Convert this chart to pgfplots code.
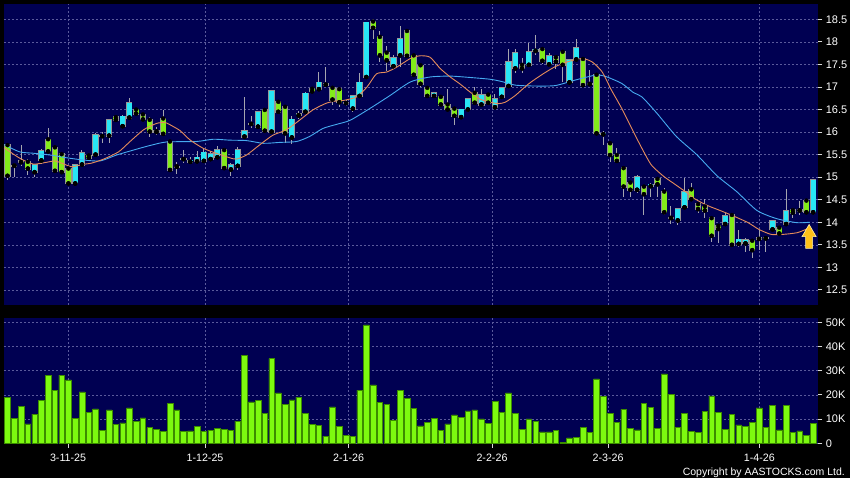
\documentclass[border=0pt]{standalone}
\usepackage{fontspec}
\setmainfont{Liberation Sans}
\usepackage{pgfplots}
\usepackage{pgfplotstable}
\pgfplotsset{compat=1.18}
\definecolor{bgnavy}{RGB}{0,0,82}
\definecolor{gridc}{RGB}{90,90,155}
\definecolor{upc}{RGB}{40,230,245}
\definecolor{dnc}{RGB}{130,235,25}
\definecolor{outc}{RGB}{150,150,150}
\definecolor{wickc}{RGB}{165,165,175}
\definecolor{volc}{RGB}{125,250,15}
\definecolor{voledge}{RGB}{60,140,0}
\definecolor{maor}{RGB}{230,140,90}
\definecolor{mabl}{RGB}{70,170,240}
\definecolor{arrowc}{RGB}{255,192,25}
\definecolor{arrowedge}{RGB}{255,240,170}

\pgfplotstableread{
i O H L C
2 15.33 15.72 15.25 15.36
4 15.11 15.30 15.01 15.28
5 15.37 15.62 15.30 15.59
10 14.86 15.29 14.85 15.28
11 15.28 15.60 15.23 15.54
13 15.50 15.97 15.48 15.93
14 15.91 16.01 15.75 15.92
15 15.92 16.30 15.75 16.27
17 16.13 16.37 16.11 16.35
18 16.32 16.75 16.30 16.64
26 15.40 15.60 15.31 15.41
27 15.34 15.45 15.32 15.37
28 15.35 15.58 15.33 15.44
29 15.36 15.62 15.32 15.55
30 15.40 15.58 15.38 15.51
31 15.44 15.68 15.40 15.60
33 15.17 15.32 15.03 15.28
34 15.25 15.66 15.15 15.60
35 15.90 16.78 15.84 16.02
36 16.18 16.35 16.10 16.19
37 16.12 16.45 16.10 16.44
39 16.01 16.93 15.99 16.92
42 15.88 16.35 15.73 16.28
43 16.37 16.46 16.30 16.40
44 16.45 16.88 16.43 16.86
46 16.95 17.33 16.93 17.10
47 17.05 17.45 17.00 17.07
50 16.64 16.70 16.58 16.66
51 16.52 16.82 16.45 16.80
52 16.80 17.30 16.78 17.10
53 17.22 18.45 17.20 18.43
57 17.46 17.70 17.40 17.64
58 17.70 18.35 17.45 18.07
63 16.80 16.88 16.78 16.87
67 16.33 16.52 16.30 16.50
68 16.50 16.76 16.45 16.74
70 16.61 16.95 16.55 16.83
72 16.55 16.85 16.50 16.73
73 16.78 17.00 16.75 16.98
74 17.02 17.85 16.98 17.55
75 17.41 17.85 17.30 17.75
77 17.49 17.97 17.45 17.78
78 17.80 18.15 17.70 17.83
80 17.50 17.75 17.45 17.69
83 17.10 17.62 17.08 17.60
84 17.61 18.07 17.60 17.87
88 15.95 16.02 15.71 15.97
93 14.72 15.05 14.65 15.01
95 14.80 14.88 14.56 14.84
99 14.04 14.29 13.94 14.29
100 14.33 14.97 14.30 14.68
106 13.96 14.21 13.94 14.14
108 13.52 13.83 13.45 13.62
109 13.53 13.65 13.35 13.61
111 13.63 13.83 13.38 13.65
113 13.84 14.05 13.79 14.03
115 13.96 14.73 13.94 14.26
117 14.26 14.48 14.16 14.28
119 14.22 14.96 14.20 14.94
}\up

\pgfplotstableread{
i O H L C
0 15.71 15.74 14.94 15.03
1 15.26 15.31 15.00 15.25
3 15.34 15.40 15.05 15.19
6 15.84 16.08 15.56 15.57
7 15.66 15.68 15.10 15.14
8 15.51 15.53 15.08 15.11
9 15.19 15.20 14.83 14.86
12 15.48 15.50 15.41 15.43
16 16.33 16.35 16.25 16.27
19 16.50 16.52 16.39 16.41
20 16.39 16.40 16.26 16.28
21 16.27 16.34 15.90 16.01
22 16.02 16.12 15.93 16.00
23 16.30 16.49 15.95 15.96
24 15.79 15.80 15.12 15.16
25 15.24 15.34 15.08 15.23
32 15.60 15.65 15.17 15.20
38 16.49 16.50 16.00 16.03
40 16.67 16.70 16.40 16.45
41 16.56 16.58 15.75 15.97
45 16.96 17.00 16.88 16.90
48 16.98 17.02 16.60 16.72
49 16.95 16.98 16.55 16.66
54 18.45 18.50 18.07 18.31
55 18.11 18.25 17.55 17.70
56 17.76 17.90 17.35 17.59
59 18.24 18.25 17.65 17.69
60 17.70 17.72 17.25 17.27
61 17.48 17.50 17.00 17.07
62 16.98 17.00 16.75 16.80
64 16.78 16.80 16.55 16.61
65 16.61 16.95 16.47 16.50
66 16.52 16.55 16.15 16.36
69 16.87 17.00 16.60 16.65
71 16.83 16.85 16.60 16.65
76 17.49 17.65 17.30 17.41
79 17.84 17.88 17.50 17.58
81 17.66 17.70 17.40 17.56
82 17.78 17.80 17.10 17.49
85 17.62 17.63 17.00 17.04
86 17.07 17.38 17.04 17.06
87 17.27 17.30 15.95 15.97
89 15.75 15.76 15.33 15.49
90 15.49 15.65 15.33 15.36
91 15.20 15.21 14.57 14.79
92 14.88 14.90 14.56 14.72
94 14.79 14.80 14.16 14.62
96 14.96 14.98 14.55 14.84
97 14.68 14.75 14.16 14.22
98 14.10 14.35 13.96 14.09
101 14.73 14.86 14.50 14.51
102 14.40 14.42 14.20 14.29
103 14.35 14.51 14.09 14.26
104 14.09 14.10 13.57 13.70
105 13.92 13.94 13.53 13.85
107 14.16 14.17 13.48 13.50
110 13.59 13.60 13.20 13.38
112 13.65 13.66 13.35 13.64
114 13.88 13.90 13.70 13.75
116 14.27 14.32 14.10 14.21
118 14.48 14.49 14.20 14.22
}\down

\pgfplotstableread{
i v
0 18.9
1 10.2
2 15.4
3 8.0
4 12.1
5 17.8
6 28.2
7 22.0
8 28.2
9 26.2
10 10.2
11 21.2
12 12.9
13 14.2
14 5.2
15 13.8
16 7.7
17 8.4
18 14.6
19 9.1
20 10.5
21 6.5
22 5.9
23 4.8
24 16.5
25 13.8
26 5.0
27 5.1
28 6.9
29 4.8
30 5.4
31 6.3
32 5.6
33 5.4
34 9.2
35 36.2
36 17.1
37 17.8
38 12.4
39 35.0
40 20.8
41 16.0
42 17.9
43 19.1
44 12.5
45 7.9
46 7.4
47 3.0
48 15.0
49 6.9
50 3.4
51 2.8
52 22.0
53 48.9
54 24.1
55 16.8
56 16.0
57 9.6
58 22.0
59 18.5
60 14.5
61 7.2
62 8.5
63 10.3
64 5.2
65 8.0
66 11.7
67 10.7
68 13.4
69 13.8
70 10.1
71 8.3
72 17.2
73 12.8
74 20.8
75 12.3
76 5.8
77 10.1
78 9.0
79 4.7
80 4.7
81 5.2
82 0.4
83 2.2
84 2.6
85 6.6
86 4.5
87 26.6
88 19.3
89 12.3
90 8.7
91 14.0
92 6.3
93 5.5
94 16.5
95 14.9
96 6.1
97 28.7
98 20.1
99 6.6
100 12.5
101 4.8
102 4.5
103 13.1
104 19.6
105 12.7
106 5.9
107 12.1
108 7.6
109 6.9
110 8.5
111 14.6
112 6.6
113 15.7
114 5.5
115 15.8
116 4.4
117 5.1
118 3.4
119 8.3
}\vol

\pgfplotsset{
  common/.style={
    scale only axis, anchor=south west, width=814.3pt,
    xmin=-0.52, xmax=119.76,
    axis background/.style={fill=bgnavy},
    axis line style={draw=none},
    xtick={8.94,29.17,50.37,71.56,88.7,111.05},
    grid=major,
    major grid style={gridc, dash pattern=on 2pt off 2pt, line width=0.5pt},
    ytick pos=right, yticklabel pos=right,
    tick align=outside, major tick length=4pt,
    major tick style={white!70!gray, line width=0.8pt},
    yticklabel style={text=white, font=\fontsize{11}{11}\selectfont},
    /pgf/number format/assume math mode=true,
  },
  wick/.style={only marks, mark=none, error bars/.cd, y dir=both, y explicit,
    error mark=none, error bar style={wickc, line width=1pt}},
  bodyout/.style={only marks, mark=none, error bars/.cd, y dir=both, y explicit,
    error mark=none, error bar style={outc, line width=6.2pt}},
  bodyfill/.style={only marks, mark=none, error bars/.cd, y dir=both, y explicit,
    error mark=none, error bar style={#1, line width=4.8pt}},
}

\begin{document}
\begin{tikzpicture}
\useasboundingbox (0,0) rectangle (850pt,478pt);
\fill[black] (0,0) rectangle (850pt,478pt);

\begin{axis}[common, at={(4pt,173pt)}, height=301pt,
  ymin=12.165, ymax=18.839,
  ytick={12.5,13,13.5,14,14.5,15,15.5,16,16.5,17,17.5,18,18.5},
  xticklabels={}, major x tick style={draw=none}]
% wicks
\addplot[wick] table[x=i, y=O, y error plus expr=\thisrow{H}-\thisrow{O}, y error minus expr=\thisrow{O}-\thisrow{L}] {\up};
\addplot[wick] table[x=i, y=O, y error plus expr=\thisrow{H}-\thisrow{O}, y error minus expr=\thisrow{O}-\thisrow{L}] {\down};
% bodies
\addplot[bodyout] table[x=i, y=O, y error plus expr=\thisrow{C}-\thisrow{O}+0.016, y error minus expr=0.016] {\up};
\addplot[bodyfill=upc] table[x=i, y=O, y error plus expr=\thisrow{C}-\thisrow{O}, y error minus expr=0] {\up};
\addplot[bodyout] table[x=i, y=C, y error plus expr=\thisrow{O}-\thisrow{C}+0.016, y error minus expr=0.016] {\down};
\addplot[bodyfill=dnc] table[x=i, y=C, y error plus expr=\thisrow{O}-\thisrow{C}, y error minus expr=0] {\down};
% moving averages
\addplot[mabl, line width=0.9pt, smooth, tension=0.4] coordinates {
(-0.5,15.72) (1.8,15.56) (3.8,15.53) (6.3,15.49) (8.7,15.43) (11.2,15.38) (13.7,15.36)
(16.1,15.49) (18.6,15.60) (21,15.70) (23.5,15.78) (27.9,15.79) (30.4,15.84) (32.8,15.82)
(35.3,15.81) (37.8,15.75) (40.2,15.77) (42.7,15.79) (44.6,15.90) (46.6,16.08) (48.6,16.17)
(50.6,16.26) (53.5,16.52) (56.5,16.81) (59.5,17.11) (62.4,17.22) (65.4,17.24) (68.3,17.21)
(71.3,17.17) (73,17.12) (75,17.04) (77.9,17.02) (80.9,17.03) (83.8,17.15) (86.8,17.26)
(88.2,17.24) (90.7,17.08) (92.4,16.88) (93.7,16.78) (95.9,16.42) (98.8,15.90) (101.8,15.50)
(104.8,15.03) (107.7,14.68) (110.7,14.26) (113.6,14.08) (116.6,13.99) (118.5,14.00)};
\addplot[maor, line width=0.9pt, smooth, tension=0.4] coordinates {
(-0.5,15.65) (1.8,15.42) (3.8,15.29) (5.8,15.33) (7,15.36) (8,15.31) (9.5,15.23) (11,15.28)
(12.4,15.31) (14.2,15.40) (16.4,15.56) (18.1,15.79) (20.1,16.05) (22,16.19) (23.3,16.21)
(24.5,16.12) (25.5,16.03) (27,15.82) (28.9,15.64) (30.8,15.53) (32.8,15.43) (33.8,15.40)
(35.3,15.49) (37.2,15.71) (39.2,15.93) (41.2,16.05) (43.2,16.27) (45.1,16.49) (47.1,16.64)
(48.6,16.69) (49.6,16.70) (51.6,16.78) (53.1,17.00) (54.5,17.29) (56,17.33) (57.5,17.44)
(59.5,17.63) (60.9,17.69) (62.4,17.66) (63.9,17.41) (65.4,17.22) (66.8,17.07) (68.3,16.89)
(69.8,16.73) (71.3,16.66) (72.5,16.63) (73.5,16.66) (75,16.81) (76.9,17.06) (78.9,17.27)
(80.9,17.45) (82.8,17.56) (84.8,17.63) (86.3,17.56) (87.8,17.34) (89.2,16.93) (90.7,16.53)
(92.2,16.08) (93.7,15.64) (95.1,15.27) (96.9,15.02) (98.5,14.85) (100.3,14.66) (101.5,14.52)
(103.4,14.37) (105.6,14.24) (107.5,14.12) (109.4,13.99) (111,13.84) (112.8,13.73)
(114.5,13.73) (116.7,13.77) (118.5,13.88)};
% arrow marker
\filldraw[fill=arrowc, draw=arrowedge, line width=0.6pt]
  (axis cs:118.4,13.95) -- (axis cs:119.45,13.68) -- (axis cs:118.92,13.68)
  -- (axis cs:118.92,13.42) -- (axis cs:117.88,13.42) -- (axis cs:117.88,13.68)
  -- (axis cs:117.35,13.68) -- cycle;
\end{axis}

\begin{axis}[common, at={(4pt,34pt)}, height=126pt,
  ymin=-0.29, ymax=51.78,
  ytick={0,10,20,30,40,50}, yticklabels={0,10K,20K,30K,40K,50K},
  xtick pos=left,
  xticklabels={3-11-25,1-12-25,2-1-26,2-2-26,2-3-26,1-4-26},
  xticklabel style={text=white, font=\fontsize{10.7}{11}\selectfont, yshift=-2.5pt}]
\addplot[ybar, bar width=5.6pt, fill=volc, draw=voledge, line width=0.5pt] table[x=i, y=v] {\vol};
\end{axis}

\node[anchor=base east, text=white, font=\fontsize{10.5}{11}\selectfont, inner sep=0pt]
  at (845pt,2.5pt) {Copyright by AASTOCKS.com Ltd.};
\end{tikzpicture}
\end{document}
